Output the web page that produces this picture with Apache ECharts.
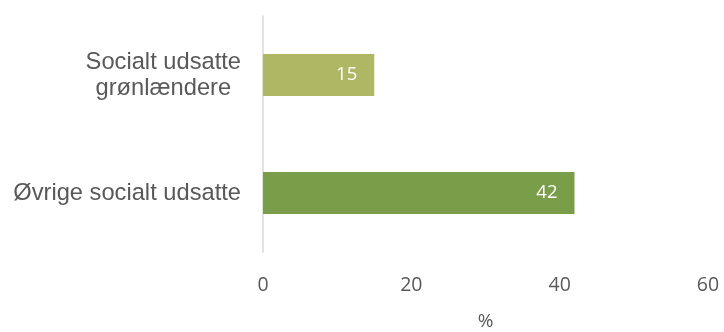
<!DOCTYPE html>
<html>
<head>
<meta charset="utf-8">
<script src="https://cdn.jsdelivr.net/npm/echarts@6/dist/echarts.min.js"></script>
<style>
  html, body { margin: 0; padding: 0; background: #ffffff; }
  #chart { width: 724px; height: 332px; }
</style>
</head>
<body>
<div id="chart"></div>
<script>
// Share of each group, in percent
const categories = ['Socialt udsatte\ngrønlændere', 'Øvrige socialt udsatte'];
const values = [15, 42];
const barColors = ['#afb764', '#799d49'];
const axisName = '%';

const textGray = '#595959';

const chart = echarts.init(document.getElementById('chart'));

chart.setOption({
  animation: false,
  backgroundColor: '#ffffff',
  grid: { left: 263, right: 16, top: 16, bottom: 80, outerBoundsMode: 'none' },
  xAxis: {
    type: 'value',
    min: 0,
    max: 60,
    interval: 20,
    name: axisName,
    nameLocation: 'middle',
    nameGap: 60,
    nameTextStyle: { color: textGray, fontSize: 19, fontFamily: 'Open Sans' },
    axisLine: { show: false },
    axisTick: { show: false },
    splitLine: { show: false },
    axisLabel: { color: textGray, fontSize: 19.5, fontFamily: 'Open Sans', margin: 23 }
  },
  yAxis: {
    type: 'category',
    inverse: true,
    data: categories,
    axisLine: { show: true, lineStyle: { color: '#d9d9d9', width: 1.5 } },
    axisTick: { show: false },
    axisLabel: {
      margin: 22,
      align: 'right',
      // centre each line of a wrapped label within its block
      formatter: function (v) {
        return v.split('\n').map(function (l) { return '{c|' + l + '}'; }).join('\n');
      },
      rich: {
        c: {
          align: 'center',
          color: textGray,
          fontSize: 23.7,
          lineHeight: 26,
          fontFamily: 'Liberation Sans'
        }
      }
    }
  },
  series: [{
    type: 'bar',
    barWidth: 42,
    data: values.map(function (v, i) {
      return { value: v, itemStyle: { color: barColors[i] } };
    }),
    label: {
      show: true,
      position: 'insideRight',
      distance: 17,
      color: '#ffffff',
      fontSize: 18.5,
      fontFamily: 'Open Sans'
    }
  }]
});
</script>
</body>
</html>
